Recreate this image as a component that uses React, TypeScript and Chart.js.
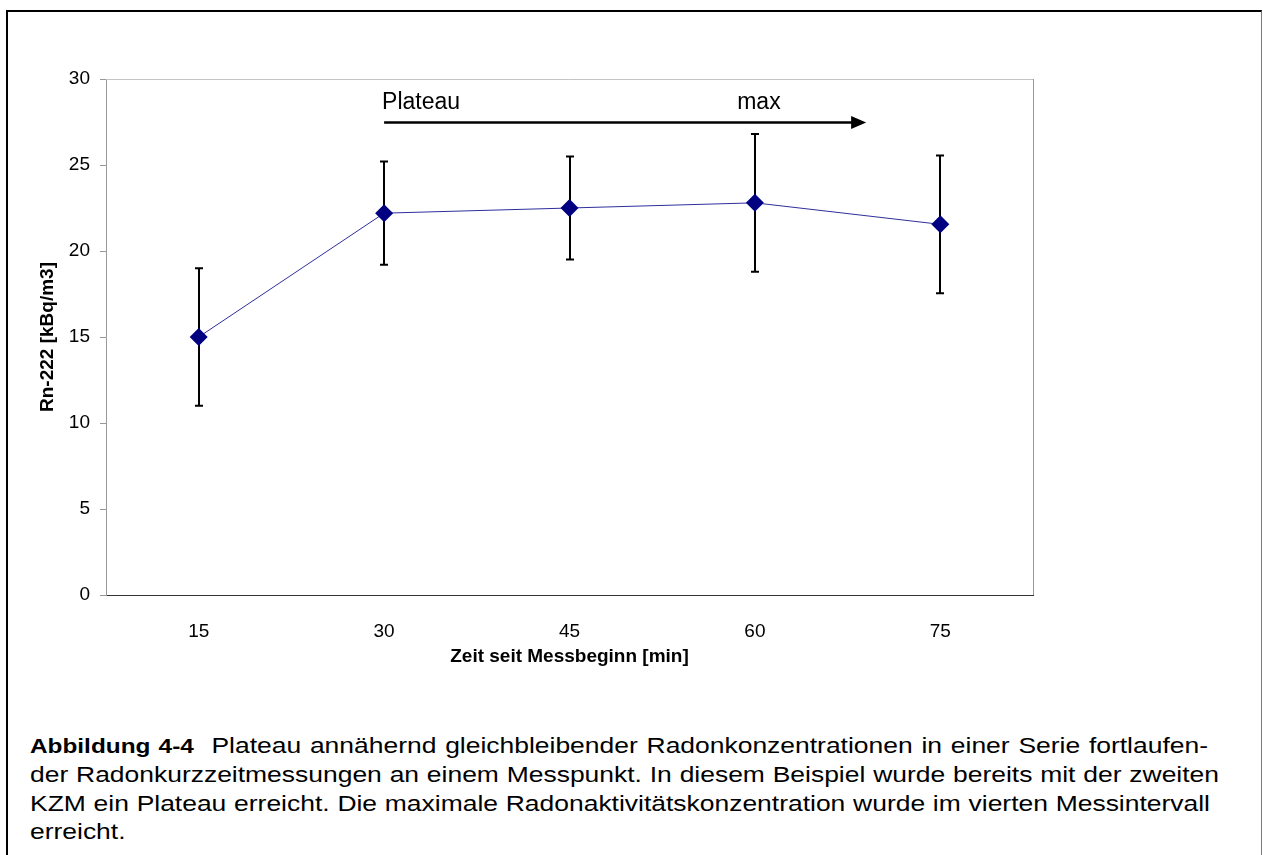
import { useEffect, useRef } from 'react';
import { Chart, registerables } from 'chart.js';

Chart.register(...registerables);

// Measurement intervals (minutes since start) and Rn-222 concentrations
const categories = ['15', '30', '45', '60', '75'];
const radon = [15.0, 22.2, 22.5, 22.8, 21.55];
const radonError = [4, 3, 3, 4, 4];

// Value axis
const yMin = 0;
const yMax = 30;
const yStep = 5;

// Plateau annotation: arrow from the second interval towards the right, "max" above the maximum
const plateauLabel = 'Plateau';
const maxLabel = 'max';
const arrowStartIndex = 1;
const arrowEndIndex = 3.6;
const arrowLevel = 27.5;

const xTitle = 'Zeit seit Messbeginn [min]';
const yTitle = 'Rn-222 [kBq/m3]';

const captionLead = 'Abbildung 4-4';
const captionLines = [
  'Plateau annähernd gleichbleibender Radonkonzentrationen in einer Serie fortlaufen-',
  'der Radonkurzzeitmessungen an einem Messpunkt. In diesem Beispiel wurde bereits mit der zweiten',
  'KZM ein Plateau erreicht. Die maximale Radonaktivitätskonzentration wurde im vierten Messintervall',
  'erreicht.',
];
// printed line lengths of the justified caption block (the last line is left as is)
const captionLineWidths = [1178, 1189, 1180, 0];
const captionStretch = 1.16;

const FONT = '"Liberation Sans", Arial, Helvetica, sans-serif';

const errorBarPlugin = {
  id: 'errorBars',
  beforeDatasetsDraw(chart: any) {
    const { ctx, scales } = chart;
    const x = scales.x;
    const y = scales.y;
    ctx.save();
    ctx.strokeStyle = '#000000';
    ctx.lineWidth = 2;
    radon.forEach((v, i) => {
      const px = Math.round(x.getPixelForValue(i));
      const top = y.getPixelForValue(v + radonError[i]);
      const bottom = y.getPixelForValue(v - radonError[i]);
      ctx.beginPath();
      ctx.moveTo(px, top);
      ctx.lineTo(px, bottom);
      ctx.moveTo(px - 4, top);
      ctx.lineTo(px + 4, top);
      ctx.moveTo(px - 4, bottom);
      ctx.lineTo(px + 4, bottom);
      ctx.stroke();
    });
    ctx.restore();
  },
};

const frameAndNotesPlugin = {
  id: 'frameAndNotes',
  beforeDatasetsDraw(chart: any) {
    const { ctx, chartArea } = chart;
    ctx.save();
    ctx.lineWidth = 1;
    ctx.strokeStyle = '#c4c4c4';
    ctx.beginPath();
    ctx.moveTo(chartArea.left, chartArea.top + 0.5);
    ctx.lineTo(chartArea.right, chartArea.top + 0.5);
    ctx.stroke();
    ctx.strokeStyle = '#9a9a9a';
    ctx.beginPath();
    ctx.moveTo(chartArea.right + 0.5, chartArea.top);
    ctx.lineTo(chartArea.right + 0.5, chartArea.bottom);
    ctx.stroke();
    ctx.restore();
  },
  afterDraw(chart: any) {
    const { ctx, scales } = chart;
    const x = scales.x;
    const y = scales.y;
    const startX = x.getPixelForValue(arrowStartIndex);
    const tipX = x.getPixelForValue(arrowEndIndex);
    const ay = Math.round(y.getPixelForValue(arrowLevel)) + 0.5;
    ctx.save();
    ctx.strokeStyle = '#000000';
    ctx.fillStyle = '#000000';
    ctx.lineWidth = 2.5;
    ctx.beginPath();
    ctx.moveTo(startX, ay);
    ctx.lineTo(tipX - 12, ay);
    ctx.stroke();
    ctx.beginPath();
    ctx.moveTo(tipX, ay);
    ctx.lineTo(tipX - 15, ay - 6.5);
    ctx.lineTo(tipX - 15, ay + 6.5);
    ctx.closePath();
    ctx.fill();

    ctx.font = `23px ${FONT}`;
    ctx.textBaseline = 'alphabetic';
    ctx.textAlign = 'left';
    ctx.fillText(plateauLabel, startX - 2, ay - 13.5);
    const maxIndex = radon.indexOf(Math.max(...radon));
    ctx.textAlign = 'center';
    ctx.fillText(maxLabel, x.getPixelForValue(maxIndex) + 4, ay - 13.5);
    ctx.restore();
  },
};

function RadonChart() {
  const ref = useRef<HTMLCanvasElement | null>(null);
  useEffect(() => {
    if (!ref.current) return;
    const chart = new Chart(ref.current, {
      type: 'line',
      data: {
        labels: categories,
        datasets: [
          {
            data: radon,
            borderColor: '#2e2e9c',
            borderWidth: 1,
            backgroundColor: '#000080',
            pointStyle: 'rectRot',
            pointRadius: 9,
            pointBorderWidth: 0,
            pointBackgroundColor: '#000080',
            pointBorderColor: '#000080',
            tension: 0,
          },
        ],
      },
      options: {
        animation: false,
        responsive: false,
        devicePixelRatio: 1,
        layout: { padding: { left: 0, top: 79, right: 230, bottom: 0 } },
        plugins: {
          legend: { display: false },
          tooltip: { enabled: false },
          title: { display: false },
        },
        scales: {
          x: {
            type: 'category',
            offset: true,
            afterFit(scale: any) {
              scale.height = 105;
            },
            grid: { display: true, drawOnChartArea: false, drawTicks: false, color: 'rgba(0,0,0,0)' },
            border: { display: true, color: '#333333', width: 1 },
            ticks: {
              color: '#000000',
              padding: 25,
              font: { family: FONT, size: 19 },
              maxRotation: 0,
            },
            title: {
              display: true,
              text: xTitle,
              color: '#000000',
              font: { family: FONT, size: 19, weight: 'bold' },
              padding: { top: 0, bottom: 32 },
            },
          },
          y: {
            min: yMin,
            max: yMax,
            afterFit(scale: any) {
              scale.width = 106;
            },
            grid: { display: true, drawOnChartArea: false, drawTicks: true, tickLength: 6, color: '#999999' },
            border: { display: true, color: '#999999', width: 1 },
            ticks: {
              stepSize: yStep,
              color: '#000000',
              padding: 10,
              font: { family: FONT, size: 19 },
            },
            title: {
              display: true,
              text: yTitle,
              color: '#000000',
              font: { family: FONT, size: 19, weight: 'bold' },
              padding: { top: 36.5, bottom: 0 },
            },
          },
        },
      },
      plugins: [errorBarPlugin, frameAndNotesPlugin],
    } as any);
    return () => chart.destroy();
  }, []);
  return (
    <canvas
      ref={ref}
      width={1263}
      height={700}
      style={{ position: 'absolute', left: 0, top: 0, width: 1263, height: 700 }}
    />
  );
}

export default function App() {
  return (
    <div
      style={{
        position: 'absolute',
        left: 0,
        top: 0,
        width: 1263,
        height: 855,
        overflow: 'hidden',
        background: '#ffffff',
        fontFamily: FONT,
      }}
    >
      <div
        style={{
          position: 'absolute',
          left: 6,
          top: 10,
          width: 1256,
          height: 900,
          boxSizing: 'border-box',
          borderLeft: '2px solid #000',
          borderTop: '2px solid #000',
          borderRight: '1px solid #7a7a7a',
        }}
      />
      <RadonChart />
      <div
        style={{
          position: 'absolute',
          left: 30,
          top: 731.2,
          fontSize: 22.8,
          lineHeight: '28.3px',
          color: '#000',
          transform: `scaleX(${captionStretch})`,
          transformOrigin: 'left top',
        }}
      >
        {captionLines.map((line, i) => (
          <div
            key={i}
            style={{
              whiteSpace: 'nowrap',
              ...(captionLineWidths[i] > 0
                ? {
                    width: captionLineWidths[i] / captionStretch,
                    textAlign: 'justify' as any,
                    textAlignLast: 'justify' as any,
                  }
                : {}),
            }}
          >
            {i === 0 ? (
              <>
                <b style={{ fontSize: 21 }}>{captionLead}</b>
                {'\u00a0 '}
              </>
            ) : null}
            {line}
          </div>
        ))}
      </div>
    </div>
  );
}
